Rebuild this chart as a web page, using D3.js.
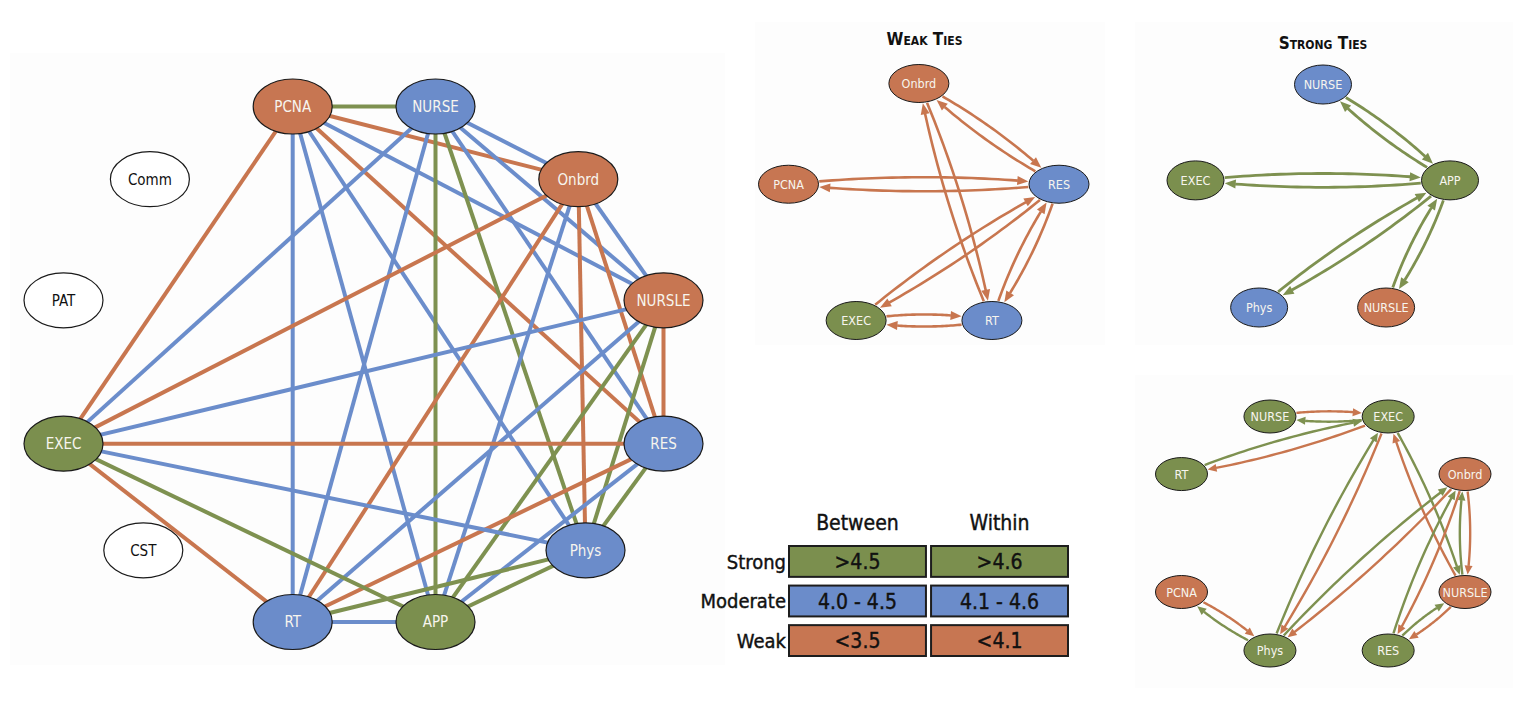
<!DOCTYPE html>
<html><head><meta charset="utf-8">
<script src="https://cdn.jsdelivr.net/npm/d3@7"></script>
<style>
html,body{margin:0;padding:0;background:#fff;}
svg{display:block;}
text{font-family:"DejaVu Sans Condensed","Roboto Condensed",sans-serif;}
</style></head><body>
<svg id="c" width="1530" height="702"></svg>
<script>
// ================= DATA =================
// Legend / thresholds
const tieLevels = ["strong", "moderate", "weak"];
const tieLabels = ["Strong", "Moderate", "Weak"];
const thresholdColumns = ["Between", "Within"];
const betweenThresholds = [">4.5", "4.0 - 4.5", "<3.5"];
const withinThresholds = [">4.6", "4.1 - 4.6", "<4.1"];

// Main network: nodes and tie strength of every pair
const mainNodeNames  = ["PCNA","NURSE","Onbrd","NURSLE","RES","Phys","APP","RT","CST","EXEC","PAT","Comm"];
const mainNodeLevels = ["weak","moderate","weak","weak","moderate","moderate","strong","moderate","none","strong","none","none"];
const mainEdges = [
  ["PCNA","NURSE","strong"], ["PCNA","Onbrd","weak"], ["PCNA","NURSLE","moderate"], ["PCNA","RES","weak"],
  ["PCNA","Phys","moderate"], ["PCNA","APP","moderate"], ["PCNA","RT","moderate"], ["PCNA","EXEC","weak"],
  ["NURSE","Onbrd","moderate"], ["NURSE","NURSLE","moderate"], ["NURSE","RES","moderate"], ["NURSE","Phys","strong"],
  ["NURSE","APP","strong"], ["NURSE","RT","moderate"], ["NURSE","EXEC","moderate"],
  ["Onbrd","NURSLE","moderate"], ["Onbrd","RES","weak"], ["Onbrd","Phys","weak"], ["Onbrd","APP","moderate"],
  ["Onbrd","RT","weak"], ["Onbrd","EXEC","weak"],
  ["NURSLE","RES","weak"], ["NURSLE","Phys","strong"], ["NURSLE","APP","strong"], ["NURSLE","RT","moderate"], ["NURSLE","EXEC","moderate"],
  ["RES","Phys","strong"], ["RES","APP","moderate"], ["RES","RT","weak"], ["RES","EXEC","weak"],
  ["Phys","APP","strong"], ["Phys","RT","strong"], ["Phys","EXEC","moderate"],
  ["APP","RT","moderate"], ["APP","EXEC","strong"], ["RT","EXEC","weak"]
];

// Weak ties panel
const weakTitle = "Weak Ties";
const weakNodeNames  = ["Onbrd","PCNA","RES","EXEC","RT"];
const weakNodeLevels = ["weak","weak","moderate","strong","moderate"];
const weakEdges = [
  ["PCNA","RES","weak"], ["RES","PCNA","weak"], ["Onbrd","RES","weak"], ["RES","Onbrd","weak"],
  ["Onbrd","RT","weak"], ["RT","Onbrd","weak"], ["EXEC","RES","weak"], ["RES","EXEC","weak"],
  ["RT","RES","weak"], ["RES","RT","weak"], ["EXEC","RT","weak"], ["RT","EXEC","weak"]
];

// Strong ties panel
const strongTitle = "Strong Ties";
const strongNodeNames  = ["NURSE","EXEC","APP","Phys","NURSLE"];
const strongNodeLevels = ["moderate","strong","strong","moderate","weak"];
const strongEdges = [
  ["NURSE","APP","strong"], ["APP","NURSE","strong"], ["EXEC","APP","strong"], ["APP","EXEC","strong"],
  ["Phys","APP","strong"], ["APP","Phys","strong"], ["NURSLE","APP","strong"], ["APP","NURSLE","strong"]
];

// Mixed panel
const mixNodeNames  = ["NURSE","EXEC","RT","Onbrd","PCNA","NURSLE","Phys","RES"];
const mixNodeLevels = ["strong","strong","strong","weak","weak","weak","strong","strong"];
const mixEdges = [
  ["NURSE","EXEC","weak"], ["EXEC","NURSE","strong"], ["RT","EXEC","strong"], ["EXEC","RT","weak"],
  ["Phys","EXEC","strong"], ["EXEC","Phys","weak"], ["EXEC","NURSLE","strong"], ["NURSLE","EXEC","weak"],
  ["Phys","Onbrd","strong"], ["Onbrd","Phys","weak"], ["NURSLE","Onbrd","strong"], ["Onbrd","NURSLE","weak"],
  ["RES","Onbrd","strong"], ["Onbrd","RES","weak"], ["RES","NURSLE","strong"], ["NURSLE","RES","weak"],
  ["PCNA","Phys","weak"], ["Phys","PCNA","strong"]
];

// ================= LAYOUT (unit space 0..100, mapped through scales) =================
const mainLayoutX = [38.2, 62, 85.8, 100, 100, 87, 62, 38.2, 13.3, 0, 0, 14.4];
const mainLayoutY = [0, 0, 14.1, 37.6, 65.4, 86.1, 100, 100, 86.1, 65.4, 37.6, 14.1];
const weakLayoutX = [48.2, 0, 100, 25, 75.2];
const weakLayoutY = [0, 42.5, 42.5, 100, 100];
const strongLayoutX = [50.1, 0, 100, 25, 74.9];
const strongLayoutY = [0, 43, 43, 100, 100];
const mixLayoutX = [31.2, 72.9, 0, 100, 0, 100, 31.2, 72.9];
const mixLayoutY = [0, 0, 24.6, 24.6, 75, 75, 100, 100];

// ================= STYLE =================
const nodeFill = {strong:"#7b8f4e", moderate:"#6b8cca", weak:"#c77652", none:"#ffffff"};
const edgeStroke = {strong:"#7e9150", moderate:"#6b8dcb", weak:"#c8764f"};

const svg = d3.select("#c");

// faint panel backgrounds
[[10,53,715,612],[755,22,350,323],[1135,22,378,323],[1135,375,378,313]].forEach(r=>{
  svg.append("rect").attr("x",r[0]).attr("y",r[1]).attr("width",r[2]).attr("height",r[3]).attr("fill","#fdfdfd");
});

// ---------- main network ----------
(function(){
  const x = d3.scaleLinear().domain([0,100]).range([63.5, 663.5]);
  const y = d3.scaleLinear().domain([0,100]).range([106.5, 622]);
  const pos = {};
  mainNodeNames.forEach((n,i)=>pos[n]={x:x(mainLayoutX[i]), y:y(mainLayoutY[i]), level:mainNodeLevels[i]});
  const g = svg.append("g");
  g.selectAll("line.e").data(mainEdges).join("line")
    .attr("x1",d=>pos[d[0]].x).attr("y1",d=>pos[d[0]].y)
    .attr("x2",d=>pos[d[1]].x).attr("y2",d=>pos[d[1]].y)
    .attr("stroke",d=>edgeStroke[d[2]]).attr("stroke-width",4);
  const ng = g.selectAll("g.n").data(mainNodeNames).join("g")
    .attr("transform",d=>`translate(${pos[d].x},${pos[d].y})`);
  ng.append("ellipse").attr("rx",39.5).attr("ry",27.5)
    .attr("fill",d=>nodeFill[pos[d].level]).attr("stroke","#1a1a1a").attr("stroke-width",1.2);
  ng.append("text").text(d=>d).attr("text-anchor","middle").attr("dy","0.36em")
    .attr("font-size",15).attr("fill",d=>pos[d].level==="none"?"#111":"#f7f5ee");
})();

// ---------- directed panels ----------
function drawDirected(names, levels, lx, ly, edges, xr, yr, rx, ry, opt){
  const x = d3.scaleLinear().domain([0,100]).range(xr);
  const y = d3.scaleLinear().domain([0,100]).range(yr);
  const pos = {};
  names.forEach((n,i)=>pos[n]={x:x(lx[i]), y:y(ly[i]), level:levels[i]});
  const g = svg.append("g");
  const B = (p0,c,p1,t)=>{const u=1-t;return [u*u*p0[0]+2*u*t*c[0]+t*t*p1[0], u*u*p0[1]+2*u*t*c[1]+t*t*p1[1]];};
  const inside = (p,n)=>((p[0]-n.x)/(rx+1))**2+((p[1]-n.y)/(ry+1))**2<1;
  edges.forEach(e=>{
    const s=pos[e[0]], t=pos[e[1]];
    const p0=[s.x,s.y], p1=[t.x,t.y];
    const dx=p1[0]-p0[0], dy=p1[1]-p0[1], L=Math.hypot(dx,dy);
    const h = opt.h0 + opt.hk*L;
    const c=[(p0[0]+p1[0])/2 + dy/L*h, (p0[1]+p1[1])/2 - dx/L*h];
    let lo=0, hi=0.5;
    for(let k=0;k<40;k++){const m=(lo+hi)/2; if(inside(B(p0,c,p1,m),s)) lo=m; else hi=m;}
    const t0=hi;
    lo=0.5; hi=1;
    for(let k=0;k<40;k++){const m=(lo+hi)/2; if(inside(B(p0,c,p1,m),t)) hi=m; else lo=m;}
    const t1=lo;
    const tip=B(p0,c,p1,t1);
    lo=t0; hi=t1;
    for(let k=0;k<40;k++){const m=(lo+hi)/2; const q=B(p0,c,p1,m); if(Math.hypot(q[0]-tip[0],q[1]-tip[1])>opt.al) lo=m; else hi=m;}
    const t2=lo;
    const pts=d3.range(0,31).map(i=>B(p0,c,p1,t0+(t2+0.002-t0)*i/30));
    const col=edgeStroke[e[2]];
    g.append("path").attr("d",d3.line()(pts)).attr("fill","none").attr("stroke",col).attr("stroke-width",opt.sw);
    const base=B(p0,c,p1,t2);
    const ux=(tip[0]-base[0])/opt.al, uy=(tip[1]-base[1])/opt.al;
    const w=opt.aw/2;
    const tri=[tip,[base[0]-uy*w, base[1]+ux*w],[base[0]+uy*w, base[1]-ux*w]];
    g.append("path").attr("d","M"+tri.map(p=>p.join(",")).join("L")+"Z").attr("fill",col);
  });
  const ng = g.selectAll("g.n").data(names).join("g")
    .attr("transform",d=>`translate(${pos[d].x},${pos[d].y})`);
  ng.append("ellipse").attr("rx",rx).attr("ry",ry)
    .attr("fill",d=>nodeFill[pos[d].level]).attr("stroke","#1a1a1a").attr("stroke-width",1);
  ng.append("text").text(d=>d).attr("text-anchor","middle").attr("dy","0.36em")
    .attr("font-size",opt.fs).attr("fill","#f7f5ee");
}

drawDirected(weakNodeNames, weakNodeLevels, weakLayoutX, weakLayoutY, weakEdges,
  [788.5,1059],[83.5,320.5], 30, 19, {h0:10,hk:0.015,sw:2.6,al:11,aw:9,fs:12.5});
drawDirected(strongNodeNames, strongNodeLevels, strongLayoutX, strongLayoutY, strongEdges,
  [1195.5,1450],[84.5,307.5], 28.5, 19.5, {h0:10,hk:0.015,sw:2.8,al:11,aw:9,fs:12.5});
drawDirected(mixNodeNames, mixNodeLevels, mixLayoutX, mixLayoutY, mixEdges,
  [1181.5,1465],[416.5,650.5], 26, 16.5, {h0:8,hk:0.02,sw:2.4,al:9,aw:8,fs:12.5});

// titles
function smallCapsTitle(txt, cx, cy){
  svg.append("text").attr("x",cx).attr("y",cy).attr("text-anchor","middle")
    .attr("font-size",17).attr("font-weight","bold").style("font-variant","small-caps")
    .attr("fill","#111").text(txt);
}
smallCapsTitle(weakTitle, 924.5, 45);
smallCapsTitle(strongTitle, 1323, 49);

// ---------- legend table ----------
(function(){
  const colX = d3.scaleBand().domain(thresholdColumns).range([789,1068]).paddingInner(0.036);
  const rowY = d3.scaleBand().domain(tieLevels).range([546,656]).paddingInner(0.22);
  const g = svg.append("g");
  g.selectAll("text.h").data(thresholdColumns).join("text")
    .attr("x",d=>colX(d)+colX.bandwidth()/2).attr("y",530).attr("text-anchor","middle")
    .attr("font-size",21).attr("fill","#111").attr("stroke","#111").attr("stroke-width",0.4).text(d=>d);
  g.selectAll("text.r").data(tieLevels).join("text")
    .attr("x",786).attr("y",d=>rowY(d)+rowY.bandwidth()/2).attr("dy","0.36em").attr("text-anchor","end")
    .attr("font-size",20).attr("fill","#111").attr("stroke","#111").attr("stroke-width",0.4).text((d,i)=>tieLabels[i]);
  const cells=[];
  tieLevels.forEach((lv,i)=>{
    cells.push({lv,col:"Between",txt:betweenThresholds[i]});
    cells.push({lv,col:"Within",txt:withinThresholds[i]});
  });
  g.selectAll("rect.c").data(cells).join("rect")
    .attr("x",d=>colX(d.col)).attr("y",d=>rowY(d.lv)).attr("width",colX.bandwidth()).attr("height",rowY.bandwidth())
    .attr("fill",d=>nodeFill[d.lv]).attr("stroke","#1d1d1d").attr("stroke-width",2);
  g.selectAll("text.c").data(cells).join("text")
    .attr("x",d=>colX(d.col)+colX.bandwidth()/2).attr("y",d=>rowY(d.lv)+rowY.bandwidth()/2).attr("dy","0.36em")
    .attr("text-anchor","middle").attr("font-size",21).attr("fill","#111").attr("stroke","#111").attr("stroke-width",0.4).text(d=>d.txt);
})();
</script>
</body></html>
